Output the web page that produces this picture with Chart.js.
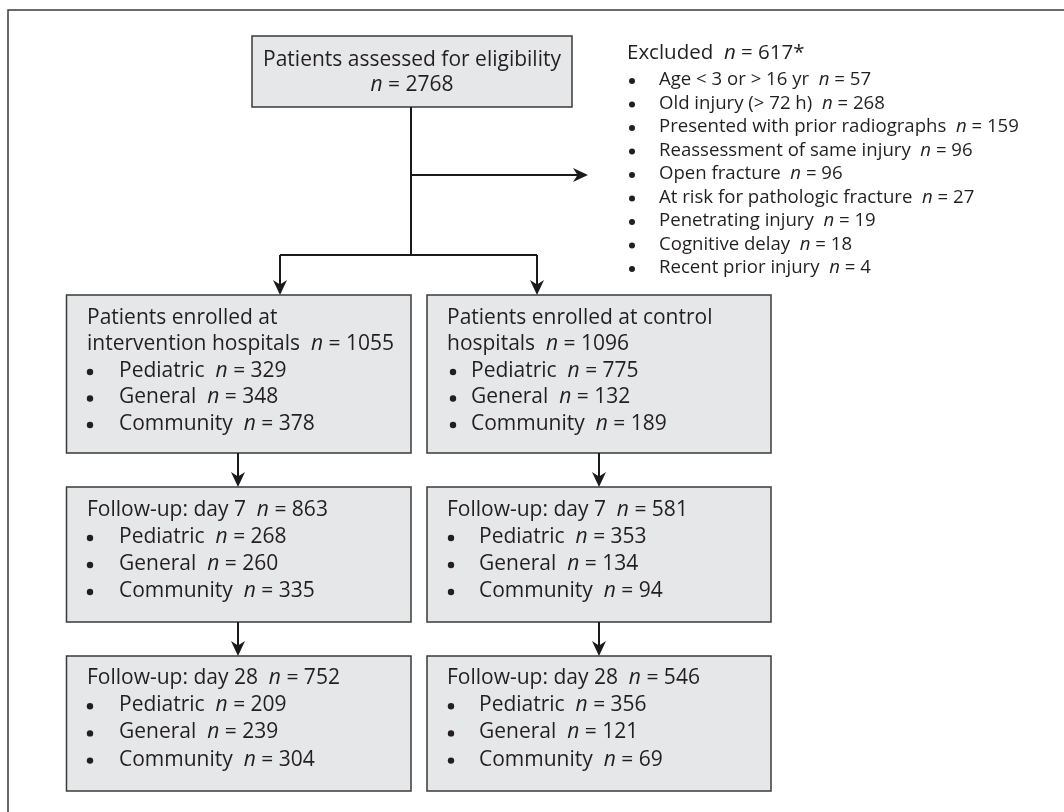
<!DOCTYPE html>
<html>
<head>
<meta charset="utf-8">
<script src="https://cdn.jsdelivr.net/npm/chart.js@4/dist/chart.umd.min.js"></script>
<style>
  html, body { margin: 0; padding: 0; background: #ffffff; }
  #wrap { position: relative; width: 1064px; height: 812px; }
</style>
</head>
<body>
<div id="wrap"><canvas id="c"></canvas></div>
<script>
// ---------------- DATA ----------------
const assessedN = 2768;
const excludedN = 617;
const exclusionReasons = [
  "Age < 3 or > 16 yr",
  "Old injury (> 72 h)",
  "Presented with prior radiographs",
  "Reassessment of same injury",
  "Open fracture",
  "At risk for pathologic fracture",
  "Penetrating injury",
  "Cognitive delay",
  "Recent prior injury"
];
const exclusionCounts = [57, 268, 159, 96, 96, 27, 19, 18, 4];

const hospitalTypes = ["Pediatric", "General", "Community"];
const interventionHeadings = [["Patients enrolled at", "intervention hospitals"], ["Follow-up: day 7"], ["Follow-up: day 28"]];
const controlHeadings = [["Patients enrolled at control", "hospitals"], ["Follow-up: day 7"], ["Follow-up: day 28"]];
const interventionTotals = [1055, 863, 752];
const interventionPediatric = [329, 268, 209];
const interventionGeneral = [348, 260, 239];
const interventionCommunity = [378, 335, 304];
const controlTotals = [1096, 581, 546];
const controlPediatric = [775, 353, 356];
const controlGeneral = [132, 134, 121];
const controlCommunity = [189, 94, 69];

// ---------------- LAYOUT (positions in scale units) ----------------
const FONT = '"Open Sans", "Noto Sans", sans-serif';
const layout = {
  frame: { top: 10, left: 8 },
  topBox: { x0: 252, x1: 572, y0: 36, y1: 107, line1: 60, line2: 85 },
  excluded: { titleX: 627, titleY: 53, bulletX: 632, textX: 659, firstY: 80, step: 23.5, size: 18.6, titleSize: 20.5 },
  stem: { x: 411, y0: 107, y1: 255 },
  exArrow: { y: 175, x1: 588 },
  branch: { y: 255, left: 280, right: 537 },
  cols: [
    { x0: 66.5, x1: 411, arrowX: 238, headX: 87, bulletX: 90, textX: 119 },
    { x0: 427, x1: 771, arrowX: 599, headX: 447, bulletX: 451, textX: 479 }
  ],
  rows: [
    { y0: 295, y1: 453, first: 318, step: 26.5 },
    { y0: 487, y1: 622, first: 510, step: 27 },
    { y0: 656, y1: 791, first: 678, step: 27.2 }
  ],
  boxSize: 21
};

const interventionByType = [interventionPediatric, interventionGeneral, interventionCommunity];
const controlByType = [controlPediatric, controlGeneral, controlCommunity];

function drawRich(ctx, segs, x, y, size, align) {
  let total = 0;
  const widths = segs.map(s => {
    ctx.font = (s.i ? 'italic ' : '') + size + 'px ' + FONT;
    const w = ctx.measureText(s.t).width;
    total += w;
    return w;
  });
  let cx = align === 'center' ? x - total / 2 : x;
  segs.forEach((s, k) => {
    ctx.font = (s.i ? 'italic ' : '') + size + 'px ' + FONT;
    ctx.fillText(s.t, cx, y);
    cx += widths[k];
  });
}
function nSegs(label, n) {
  const segs = [];
  if (label) segs.push({ t: label + '  ' });
  segs.push({ t: 'n', i: true });
  segs.push({ t: ' = ' + n });
  return segs;
}

const flowPlugin = {
  id: 'flow',
  afterDraw(chart) {
    const ctx = chart.ctx;
    const X = v => chart.scales.x.getPixelForValue(v);
    const Y = v => chart.scales.y.getPixelForValue(v);
    ctx.save();
    ctx.textBaseline = 'middle';
    ctx.fillStyle = '#231f20';

    // frame
    ctx.strokeStyle = '#3a3a3a';
    ctx.lineWidth = 1.5;
    ctx.beginPath();
    ctx.moveTo(X(1064), Y(layout.frame.top));
    ctx.lineTo(X(layout.frame.left), Y(layout.frame.top));
    ctx.lineTo(X(layout.frame.left), Y(812));
    ctx.stroke();

    function box(x0, x1, y0, y1) {
      ctx.fillStyle = '#e6e7e8';
      ctx.fillRect(X(x0), Y(y0), X(x1) - X(x0), Y(y1) - Y(y0));
      ctx.strokeStyle = '#3a3a3a';
      ctx.lineWidth = 1.5;
      ctx.strokeRect(X(x0), Y(y0), X(x1) - X(x0), Y(y1) - Y(y0));
      ctx.fillStyle = '#231f20';
    }
    function line(pts) {
      ctx.strokeStyle = '#1a1a1a';
      ctx.lineWidth = 2;
      ctx.beginPath();
      pts.forEach((p, k) => k ? ctx.lineTo(X(p[0]), Y(p[1])) : ctx.moveTo(X(p[0]), Y(p[1])));
      ctx.stroke();
    }
    function head(tx, ty, dir) {
      const L = 15, W = 7, N = 4.5;
      ctx.fillStyle = '#1a1a1a';
      ctx.beginPath();
      const px = X(tx), py = Y(ty);
      if (dir === 'down') {
        ctx.moveTo(px, py);
        ctx.lineTo(px - W, py - L);
        ctx.lineTo(px, py - L + N);
        ctx.lineTo(px + W, py - L);
      } else {
        ctx.moveTo(px, py);
        ctx.lineTo(px - L, py - W);
        ctx.lineTo(px - L + N, py);
        ctx.lineTo(px - L, py + W);
      }
      ctx.closePath();
      ctx.fill();
      ctx.fillStyle = '#231f20';
    }

    // top box
    const tb = layout.topBox;
    box(tb.x0, tb.x1, tb.y0, tb.y1);
    const cxTop = X((tb.x0 + tb.x1) / 2);
    drawRich(ctx, [{ t: 'Patients assessed for eligibility' }], cxTop, Y(tb.line1), layout.boxSize, 'center');
    drawRich(ctx, nSegs('', assessedN), cxTop, Y(tb.line2), layout.boxSize, 'center');

    // connectors
    const st = layout.stem, br = layout.branch;
    line([[st.x, st.y0], [st.x, st.y1]]);
    line([[st.x, layout.exArrow.y], [layout.exArrow.x1 - 10, layout.exArrow.y]]);
    head(layout.exArrow.x1, layout.exArrow.y, 'right');
    line([[br.left, br.y], [br.right, br.y]]);
    line([[br.left, br.y], [br.left, layout.rows[0].y0 - 8]]);
    line([[br.right, br.y], [br.right, layout.rows[0].y0 - 8]]);
    head(br.left, layout.rows[0].y0, 'down');
    head(br.right, layout.rows[0].y0, 'down');

    // excluded list
    const ex = layout.excluded;
    drawRich(ctx, [{ t: 'Excluded  ' }, { t: 'n', i: true }, { t: ' = ' + excludedN + '*' }], X(ex.titleX), Y(ex.titleY), ex.titleSize, 'left');
    exclusionReasons.forEach((r, k) => {
      const yy = Y(ex.firstY + k * ex.step);
      ctx.beginPath();
      ctx.arc(X(ex.bulletX), yy + 1, 3, 0, Math.PI * 2);
      ctx.fill();
      drawRich(ctx, nSegs(r, exclusionCounts[k]), X(ex.textX), yy, ex.size, 'left');
    });

    // columns
    const groups = [
      { heads: interventionHeadings, totals: interventionTotals, byType: interventionByType },
      { heads: controlHeadings, totals: controlTotals, byType: controlByType }
    ];
    groups.forEach((g, ci) => {
      const col = layout.cols[ci];
      layout.rows.forEach((row, ri) => {
        box(col.x0, col.x1, row.y0, row.y1);
        if (ri > 0) {
          const prev = layout.rows[ri - 1];
          line([[col.arrowX, prev.y1], [col.arrowX, row.y0 - 8]]);
          head(col.arrowX, row.y0, 'down');
        }
        const hl = g.heads[ri];
        let li = 0;
        hl.forEach((h, hk) => {
          const segs = hk === hl.length - 1 ? nSegs(h, g.totals[ri]) : [{ t: h }];
          drawRich(ctx, segs, X(col.headX), Y(row.first + li * row.step), layout.boxSize, 'left');
          li++;
        });
        const tight = (ci === 1 && ri === 0);
        hospitalTypes.forEach((t, tk) => {
          const yy = Y(row.first + li * row.step);
          const bx = tight ? col.bulletX + 2 : col.bulletX;
          const tx = tight ? col.textX - 8 : col.textX;
          ctx.beginPath();
          ctx.arc(X(bx), yy + 1, 3.2, 0, Math.PI * 2);
          ctx.fill();
          drawRich(ctx, nSegs(t, g.byType[tk][ri]), X(tx), yy, layout.boxSize, 'left');
          li++;
        });
      });
    });
    ctx.restore();
  }
};

new Chart(document.getElementById('c'), {
  type: 'scatter',
  data: { datasets: [{ data: [], pointRadius: 0 }] },
  options: {
    responsive: true,
    maintainAspectRatio: false,
    animation: false,
    layout: { padding: 0 },
    plugins: { legend: { display: false }, tooltip: { enabled: false } },
    scales: {
      x: { type: 'linear', min: 0, max: 1064, display: false },
      y: { type: 'linear', min: 0, max: 812, reverse: true, display: false }
    }
  },
  plugins: [flowPlugin]
});
</script>
</body>
</html>
